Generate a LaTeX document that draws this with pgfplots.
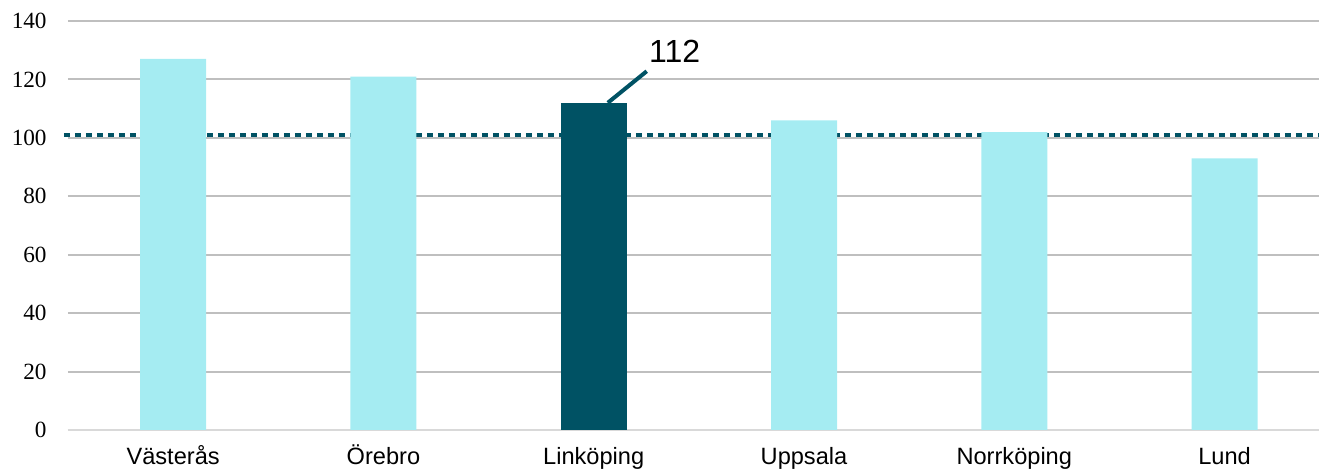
\documentclass[border=0pt]{standalone}
\usepackage{pgfplots}
\pgfplotsset{compat=1.18}
\usepackage{fontspec}
\setmainfont{Liberation Serif}
\newfontfamily\arial{Liberation Sans}
\definecolor{lightbar}{HTML}{A5ECF2}
\definecolor{darkbar}{HTML}{005264}
\definecolor{gridc}{HTML}{BFBFBF}
\definecolor{basec}{HTML}{D9D9D9}
\begin{document}
\begin{tikzpicture}
\begin{axis}[
  scale only axis, width=625.5pt, height=204.5pt,
  xmin=-0.5, xmax=5.449, ymin=0, ymax=140,
  xtick={0,...,5},
  xticklabels={Västerås,Örebro,Linköping,Uppsala,Norrköping,Lund},
  ytick={0,20,...,140},
  ymajorgrids, grid style={gridc, line width=1pt},
  axis line style={draw=none}, major tick length=0pt,
  /pgf/number format/assume math mode=true,
  yticklabel style={font=\fontsize{11.6}{13}\selectfont, anchor=east, inner sep=0pt, xshift=-10.5pt},
  xticklabel style={font=\arial\fontsize{11.8}{14}\selectfont, anchor=base, inner sep=0pt, yshift=-17.3pt},
  clip=false,
]
\draw[basec, line width=1pt] (axis cs:-0.5,0) -- (axis cs:5.449,0);
\addplot[darkbar, line width=2pt, dash pattern=on 3pt off 2.5pt] coordinates {(-0.52,101) (5.449,101)};
\addplot[ybar, bar width=33pt, bar shift=0pt, fill=lightbar, draw=none]
  coordinates {(0,127) (1,121) (3,106) (4,102) (5,93)};
\addplot[ybar, bar width=33pt, bar shift=0pt, fill=darkbar, draw=none]
  coordinates {(2,112)};
\draw[darkbar, line width=2pt] (axis cs:2.067,112) -- (axis cs:2.252,122.8);
\node[anchor=base west, inner sep=0pt, font=\arial\fontsize{16}{18}\selectfont] at (axis cs:2.262,125.9) {112};
\end{axis}
\pgfresetboundingbox
\path ([shift={(-34pt,-20.5pt)}]current axis.south west) rectangle ([shift={(0pt,10.5pt)}]current axis.north east);
\end{tikzpicture}
\end{document}
